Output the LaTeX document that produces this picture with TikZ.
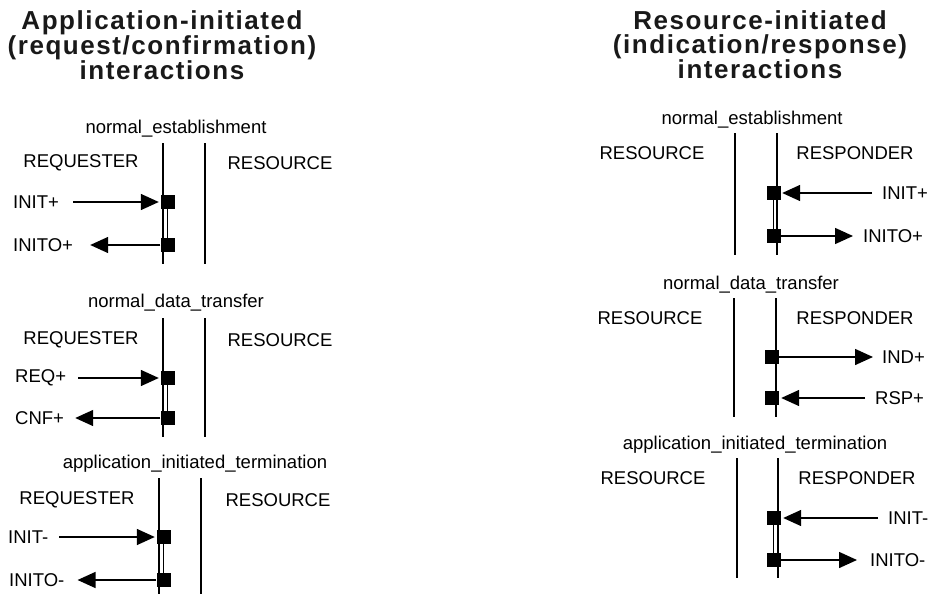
\documentclass[tikz,border=0pt]{standalone}
\usepackage{fontspec}
\setmainfont{Liberation Sans}
\newfontfamily\ttlfont[LetterSpace=6]{Liberation Sans}
\usetikzlibrary{arrows.meta}
\begin{document}
\begin{tikzpicture}[x=1pt,y=-1pt,
  lbl/.style={font=\fontsize{18.5}{20}\selectfont, inner sep=0pt},
  ttl/.style={font=\ttlfont\bfseries\fontsize{26}{23.5}\selectfont, align=center, inner sep=0pt, text=black!90},
  life/.style={line width=1.5pt},
  sq/.style={fill=black, minimum size=14pt, inner sep=0pt},
  msg/.style={line width=1.5pt, -{Triangle[length=18pt,width=16pt]}},
]
\useasboundingbox (0,0) rectangle (929,594);

% ---------------- left column ----------------
\node[ttl] (tl) at (162,45) {Application-initiated\\(request/confirmation)\\interactions};

% block 1
\node[lbl] (lb1) at (176,129) {normal\_establishment};
\node[lbl] (lh1a) at (81,163) {REQUESTER};
\node[lbl] (lh1b) at (280,163) {RESOURCE};
\coordinate (l1at) at (163,143); \coordinate (l1ab) at (163,264);
\coordinate (l1bt) at (205,143); \coordinate (l1bb) at (205,264);
\draw[life] (l1at) -- (l1ab);
\draw[life] (l1bt) -- (l1bb);
\node[sq] (ls1a) at (167.5,202) {};
\node[sq] (ls1b) at (167.5,245) {};
\draw[life] (ls1a.center) -- (ls1b.center);
\node[lbl,anchor=west] (lm1a) at (13,202) {INIT+};
\node[lbl,anchor=west] (lm1b) at (13,245) {INITO+};
\draw[msg] ([xshift=14pt]lm1a.east) -- ([xshift=-1.5pt]ls1a.west);
\draw[msg] (ls1b.west) -- ([xshift=17pt]lm1b.east);

% block 2
\node[lbl] (lb2) at (176,303) {normal\_data\_transfer};
\node[lbl] (lh2a) at (81,340) {REQUESTER};
\node[lbl] (lh2b) at (280,340) {RESOURCE};
\coordinate (l2at) at (163,318); \coordinate (l2ab) at (163,437);
\coordinate (l2bt) at (205,318); \coordinate (l2bb) at (205,437);
\draw[life] (l2at) -- (l2ab);
\draw[life] (l2bt) -- (l2bb);
\node[sq] (ls2a) at (167.5,378) {};
\node[sq] (ls2b) at (167.5,418) {};
\draw[life] (ls2a.center) -- (ls2b.center);
\node[lbl,anchor=west] (lm2a) at (15,378) {REQ+};
\node[lbl,anchor=west] (lm2b) at (15,418) {CNF+};
\draw[msg] ([xshift=12pt]lm2a.east) -- ([xshift=-1.5pt]ls2a.west);
\draw[msg] (ls2b.west) -- ([xshift=11pt]lm2b.east);

% block 3
\node[lbl] (lb3) at (195,464) {application\_initiated\_termination};
\node[lbl] (lh3a) at (77,500) {REQUESTER};
\node[lbl] (lh3b) at (278,500) {RESOURCE};
\coordinate (l3at) at (159,478); \coordinate (l3ab) at (159,594);
\coordinate (l3bt) at (201,478); \coordinate (l3bb) at (201,594);
\draw[life] (l3at) -- (l3ab);
\draw[life] (l3bt) -- (l3bb);
\node[sq] (ls3a) at (163.5,537) {};
\node[sq] (ls3b) at (163.5,580) {};
\draw[life] (ls3a.center) -- (ls3b.center);
\node[lbl,anchor=west] (lm3a) at (8,537) {INIT-};
\node[lbl,anchor=west] (lm3b) at (9,580) {INITO-};
\draw[msg] ([xshift=11pt]lm3a.east) -- ([xshift=-1.5pt]ls3a.west);
\draw[msg] (ls3b.west) -- ([xshift=13pt]lm3b.east);

% ---------------- right column ----------------
\node[ttl] (tr) at (760,45) {Resource-initiated\\(indication/response)\\interactions};

% block 1
\node[lbl] (rb1) at (752,120) {normal\_establishment};
\node[lbl] (rh1a) at (652,153) {RESOURCE};
\node[lbl] (rh1b) at (855,153) {RESPONDER};
\coordinate (r1at) at (735,133); \coordinate (r1ab) at (735,255);
\coordinate (r1bt) at (777,133); \coordinate (r1bb) at (777,255);
\draw[life] (r1at) -- (r1ab);
\draw[life] (r1bt) -- (r1bb);
\node[sq] (rs1a) at (773.5,193) {};
\node[sq] (rs1b) at (773.5,236) {};
\draw[life] (rs1a.center) -- (rs1b.center);
\node[lbl,anchor=west] (rm1a) at (882,193) {INIT+};
\node[lbl,anchor=west] (rm1b) at (863,236) {INITO+};
\draw[msg] ([xshift=-10pt]rm1a.west) -- ([xshift=1.5pt]rs1a.east);
\draw[msg] (rs1b.east) -- ([xshift=-10pt]rm1b.west);

% block 2
\node[lbl] (rb2) at (751,285) {normal\_data\_transfer};
\node[lbl] (rh2a) at (650,318) {RESOURCE};
\node[lbl] (rh2b) at (855,318) {RESPONDER};
\coordinate (r2at) at (734,298); \coordinate (r2ab) at (734,417);
\coordinate (r2bt) at (776,298); \coordinate (r2bb) at (776,417);
\draw[life] (r2at) -- (r2ab);
\draw[life] (r2bt) -- (r2bb);
\node[sq] (rs2a) at (771.5,357) {};
\node[sq] (rs2b) at (771.5,398) {};
\node[lbl,anchor=west] (rm2a) at (882,357) {IND+};
\node[lbl,anchor=west] (rm2b) at (875,398) {RSP+};
\draw[msg] (rs2a.east) -- ([xshift=-9pt]rm2a.west);
\draw[msg] ([xshift=-10pt]rm2b.west) -- ([xshift=2.5pt]rs2b.east);

% block 3
\node[lbl] (rb3) at (755,445) {application\_initiated\_termination};
\node[lbl] (rh3a) at (653,478) {RESOURCE};
\node[lbl] (rh3b) at (857,478) {RESPONDER};
\coordinate (r3at) at (737,458); \coordinate (r3ab) at (737,578);
\coordinate (r3bt) at (778,458); \coordinate (r3bb) at (778,578);
\draw[life] (r3at) -- (r3ab);
\draw[life] (r3bt) -- (r3bb);
\node[sq] (rs3a) at (773.5,518) {};
\node[sq] (rs3b) at (773.5,560) {};
\draw[life] (rs3a.center) -- (rs3b.center);
\node[lbl,anchor=west] (rm3a) at (888,518) {INIT-};
\node[lbl,anchor=west] (rm3b) at (870,560) {INITO-};
\draw[msg] ([xshift=-10pt]rm3a.west) -- ([xshift=2.5pt]rs3a.east);
\draw[msg] (rs3b.east) -- ([xshift=-13pt]rm3b.west);
\end{tikzpicture}
\end{document}
